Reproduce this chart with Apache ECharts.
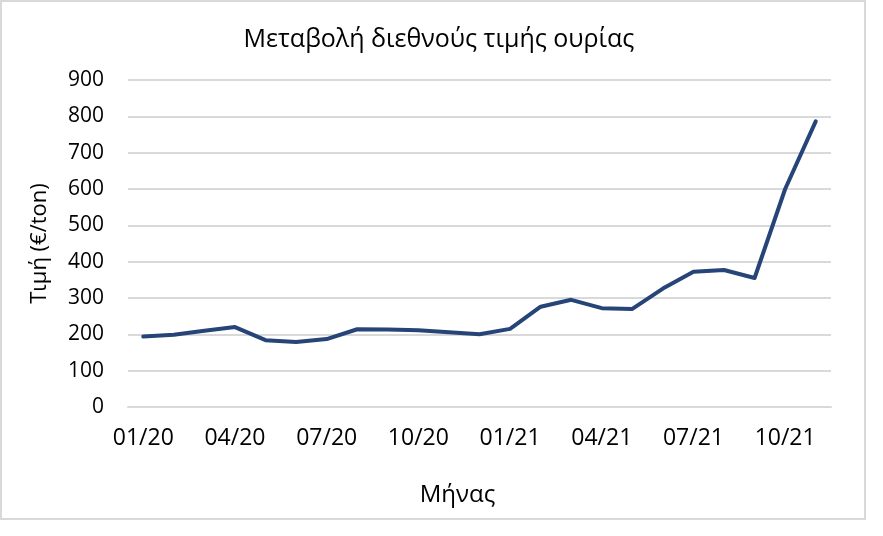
<!DOCTYPE html>
<html>
<head>
<meta charset="utf-8">
<script src="https://cdn.jsdelivr.net/npm/echarts@6/dist/echarts.min.js"></script>
<style>
html,body{margin:0;padding:0;background:#fff;}
#chart{width:883px;height:536px;}
</style>
</head>
<body>
<div id="chart"></div>
<script>
const categories = ['01/20','02/20','03/20','04/20','05/20','06/20','07/20','08/20','09/20','10/20','11/20','12/20',
  '01/21','02/21','03/21','04/21','05/21','06/21','07/21','08/21','09/21','10/21','11/21'];
const prices = [194, 199, 210, 220, 184, 179, 187, 214, 213, 211, 206, 200, 215, 276, 295, 272, 270, 326, 372, 377, 355, 600, 786];
const yTicks = [0, 100, 200, 300, 400, 500, 600, 700, 800, 900];

const FONT = '"Open Sans", sans-serif';
const chart = echarts.init(document.getElementById('chart'));
chart.setOption({
  animation: false,
  backgroundColor: '#fff',
  title: {
    text: 'Μεταβολή διεθνούς τιμής ουρίας',
    left: 434, top: 35, textAlign: 'center', textVerticalAlign: 'middle',
    textStyle: {fontFamily: FONT, fontSize: 25, fontWeight: 'normal', color: '#000'}
  },
  graphic: [{
    type: 'rect', shape: {x: 1, y: 1, width: 864, height: 518},
    style: {fill: 'none', stroke: '#d9d9d9', lineWidth: 2}, silent: true
  }],
  grid: {left: 128, right: 52, top: 80, bottom: 129, containLabel: false},
  xAxis: {
    type: 'category',
    data: categories,
    boundaryGap: true,
    name: 'Μήνας',
    nameLocation: 'middle',
    nameGap: 76,
    nameTextStyle: {fontFamily: FONT, fontSize: 24, color: '#000', padding: [0, 44, 0, 0]},
    axisLine: {show: true, lineStyle: {color: '#d9d9d9', width: 2}},
    axisTick: {show: false},
    axisLabel: {interval: 2, margin: 20, fontFamily: FONT, fontSize: 23, color: '#000'}
  },
  yAxis: {
    type: 'value',
    min: 0, max: 900, interval: 100,
    name: 'Τιμή (€/ton)',
    nameLocation: 'middle',
    nameRotate: 90,
    nameGap: 77,
    nameTextStyle: {fontFamily: FONT, fontSize: 22, color: '#000'},
    axisLine: {show: false},
    axisTick: {show: false},
    axisLabel: {margin: 24, fontFamily: FONT, fontSize: 21, color: '#000',
      formatter: v => yTicks.includes(v) ? String(v) : ''},
    splitLine: {lineStyle: {color: '#d9d9d9', width: 2}}
  },
  series: [{
    type: 'line',
    data: prices,
    symbol: 'none',
    smooth: false,
    lineStyle: {color: '#264478', width: 4, cap: 'round', join: 'round'}
  }]
});
</script>
</body>
</html>
